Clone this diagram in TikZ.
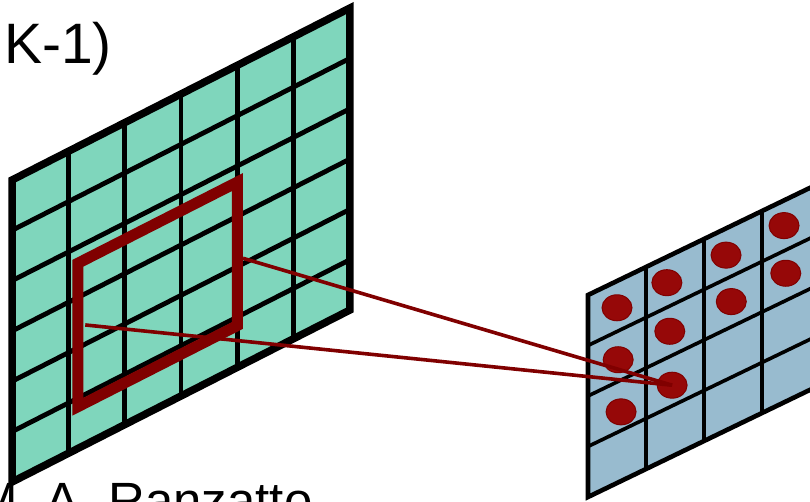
\documentclass[tikz,border=0pt]{standalone}
\usepackage{fontspec}
\setmainfont{Liberation Sans}
\usetikzlibrary{shapes.geometric}
\definecolor{mint}{RGB}{127,214,188}
\definecolor{steel}{RGB}{152,187,207}
\definecolor{mred}{RGB}{128,0,0}
\definecolor{dred}{RGB}{150,8,8}
\begin{document}
\begin{tikzpicture}[x=1pt, y=-1pt,
  gline/.style={line width=4.8pt},
  gborder/.style={line width=7.5pt, line join=miter},
  sline/.style={line width=3.6pt},
  sborder/.style={line width=4.6pt, line join=miter},
  kernel/.style={draw=mred, line width=11pt, line join=miter},
  link/.style={draw=mred, line width=3.6pt},
  dot/.style={ellipse, fill=dred, draw=mred, line width=1pt,
              minimum width=30pt, minimum height=26pt, inner sep=0pt},
  lbl/.style={inner sep=0pt, anchor=base west, font=\fontsize{57}{60}\selectfont},
]
\useasboundingbox (0,0) rectangle (810,501);
\clip (0,0) rectangle (810,501);

% input map with the receptive field
\begin{scope}[shift={(12,482)}, x={(56.33pt,28.67pt)}, y={(0pt,50.33pt)}]
  \fill[mint] (0,0) -- (6,0) -- (6,6) -- (0,6) -- cycle;
  \foreach \i in {1,...,5} {
    \draw[gline] (\i,0) -- (\i,6);
    \draw[gline] (0,\i) -- (6,\i);
  }
  \draw[gborder] (0,0) -- (6,0) -- (6,6) -- (0,6) -- cycle;
  \draw[kernel] (1.17,0.83) -- (4.0,0.83) -- (4.0,3.68) -- (1.17,3.68) -- cycle;
  \coordinate (boxE) at (4.1,2.11);
  \coordinate (boxW) at (1.3,2.38);
\end{scope}

% output map
\begin{scope}[shift={(588,497)}, x={(58pt,28pt)}, y={(0pt,50.5pt)}]
  \fill[steel] (0,0) -- (4,0) -- (4,4) -- (0,4) -- cycle;
  \foreach \i in {1,...,3} {
    \draw[sline] (\i,0) -- (\i,4);
    \draw[sline] (0,\i) -- (4,\i);
  }
  \draw[sborder] (0,0) -- (4,0) -- (4,4) -- (0,4) -- cycle;
  \foreach \s/\t [count=\n] in {0.5/3.47, 1.36/3.49, 2.38/3.47, 3.38/3.5,
      0.52/2.43, 1.41/2.5, 2.47/2.5, 3.41/2.54, 0.57/1.37, 1.45/1.41}
    \node[dot] (dot\n) at (\s,\t) {};
\end{scope}

\draw[link] (boxE) -- (dot10.center);
\draw[link] (boxW) -- (dot10.center);

\node[lbl] (dims) at (4,63) {K-1)};
\node[lbl, font=\fontsize{51}{54}\selectfont] (credit) at (-25,518.5) {M. A. Ranzatto};
\end{tikzpicture}
\end{document}
